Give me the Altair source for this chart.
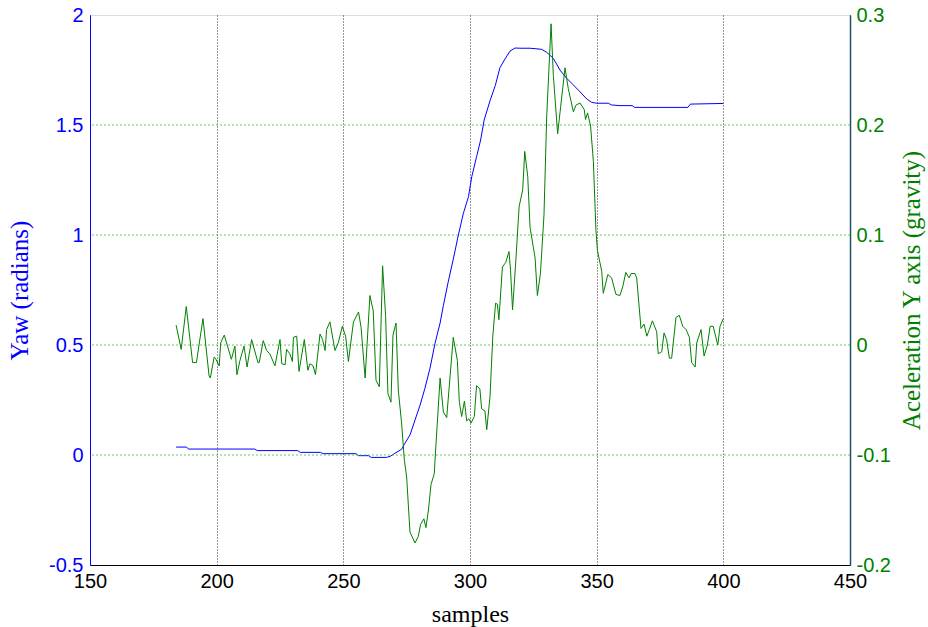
import altair as alt
import pandas as pd

# Yaw (radians) - blue, left axis
yaw_samples = [184, 188, 189, 215, 216, 232, 233, 241, 242, 255, 256, 260, 261, 267,
               268.5, 270.4, 273, 274.3, 276.3, 278.3, 280.3, 282.2, 284.2, 286.2,
               288.2, 289.5, 291.4, 293.4, 295.4, 297.4, 299.4, 300.7, 302.6, 304.2,
               305.6, 307.9, 310, 311.8, 313.8, 315.8, 317.8, 319.7, 323.7, 328.3,
               330.3, 332.9, 335.5, 338.2, 340.8, 343.4, 346.1, 348, 350, 354.6,
               355.9, 359.2, 364, 365, 386, 387, 400]
yaw_values = [0.036, 0.036, 0.027, 0.027, 0.02, 0.02, 0.012, 0.012, 0.006, 0.006,
              -0.003, -0.003, -0.011, -0.011, -0.006, 0.008, 0.026, 0.053, 0.091,
              0.159, 0.227, 0.303, 0.394, 0.508, 0.6, 0.68, 0.787, 0.89, 1.0, 1.099,
              1.174, 1.265, 1.356, 1.432, 1.523, 1.61, 1.68, 1.76, 1.80, 1.836, 1.85,
              1.849, 1.849, 1.844, 1.830, 1.803, 1.75, 1.712, 1.682, 1.651, 1.618,
              1.603, 1.599, 1.599, 1.591, 1.588, 1.588, 1.58, 1.58, 1.595, 1.598]

# Acceleration Y axis (gravity) - green, right axis
acc_samples = [184, 186, 188, 190.5, 192, 194.6, 197, 197.5, 199, 199.5, 201, 201.6,
               203, 205.8, 207.2, 208, 209.2, 210.8, 212, 213.8, 216.3, 216.8, 218.4,
               219.7, 221, 223, 225, 225.7, 227, 227.6, 228.9, 229.9, 230.3, 231.6,
               232.5, 234.6, 236, 236.8, 238.1, 239, 240.8, 241.8, 242.8, 243.4,
               244.7, 246.7, 248, 249.6, 250.9, 252, 254, 256, 257, 258.6, 260.5,
               261.8, 262.9, 264.2, 265.5, 266.7, 267.6, 268.8, 269.6, 270.8, 271.7,
               273, 274.1, 275, 276.3, 278.3, 279.6, 280.5, 281.8, 282.6, 283.6,
               284.6, 285.9, 286.6, 288.2, 289.5, 290.8, 293.4, 295, 295.8, 296.7,
               297.8, 298.7, 299.6, 300.4, 301.7, 302.6, 303.9, 304.6, 305.9, 306.6,
               307.9, 309, 310.1, 310.8, 311.4, 312.8, 314.1, 315.4, 316, 316.8,
               318.1, 319.4, 320.8, 321.6, 322.8, 323.7, 325.7, 326.6, 327.8, 329.2,
               330.3, 332, 332.9, 334.6, 335.8, 337.5, 338.8, 340.8, 341.8, 343.4,
               345.1, 345.6, 346.4, 347.6, 348.7, 349.7, 350.3, 352.0, 352.6, 354.4,
               355.9, 357.6, 359.2, 360.3, 361.5, 362.8, 363.6, 365.1, 365.8, 367.5,
               368.7, 369.8, 370.8, 372.0, 373.7, 374.3, 375.7, 376.6, 377.6, 378.7,
               379.6, 381.3, 382.6, 384.0, 385.3, 386.6, 387.5, 388.9, 389.5, 391.2,
               392.4, 393.7, 394.8, 396.0, 397.8, 398.7, 400]
acc_values = [0.018, -0.004, 0.035, -0.016, -0.016, 0.024, -0.028, -0.030, -0.011,
              -0.012, -0.019, 0.002, 0.009, -0.013, -0.001, -0.027, -0.014, -0.001,
              -0.020, 0.005, -0.016, -0.016, 0.004, -0.005, -0.008, -0.019, 0.005,
              -0.017, -0.018, -0.004, -0.008, -0.015, 0.007, 0.008, -0.024, 0.005,
              -0.023, -0.017, -0.019, -0.027, 0.010, 0.005, -0.005, 0.014, 0.021,
              -0.005, 0.002, 0.017, 0.008, -0.015, 0.021, 0.030, 0.016, -0.030,
              0.045, 0.031, -0.032, -0.038, 0.072, 0.026, -0.044, -0.052, 0.009,
              0.020, -0.041, -0.071, -0.105, -0.120, -0.170, -0.180, -0.174, -0.163,
              -0.158, -0.166, -0.150, -0.127, -0.117, -0.089, -0.030, -0.061, -0.066,
              0.007, -0.014, -0.052, -0.065, -0.051, -0.069, -0.067, -0.071, -0.065,
              -0.037, -0.040, -0.058, -0.060, -0.077, -0.047, 0.008, 0.038, 0.037,
              0.023, 0.071, 0.075, 0.085, 0.068, 0.032, 0.077, 0.126, 0.141, 0.176,
              0.153, 0.107, 0.079, 0.045, 0.065, 0.118, 0.209, 0.292, 0.245, 0.192,
              0.217, 0.252, 0.233, 0.212, 0.218, 0.220, 0.214, 0.205, 0.211, 0.199,
              0.167, 0.105, 0.086, 0.067, 0.047, 0.064, 0.061, 0.046, 0.045, 0.053,
              0.066, 0.061, 0.065, 0.065, 0.061, 0.015, 0.019, 0.008, 0.014, 0.022,
              0.012, -0.008, -0.006, 0.011, 0.005, -0.012, -0.012, 0.025, 0.027,
              0.017, 0.014, 0.007, -0.016, -0.020, 0.002, 0.014, -0.010, 0.000,
              0.017, 0.017, 0.000, 0.017, 0.024]

x_ticks = [150, 200, 250, 300, 350, 400, 450]
yaw_ticks = [-0.5, 0, 0.5, 1, 1.5, 2]
acc_ticks = [-0.2, -0.1, 0, 0.1, 0.2, 0.3]
acc_grid = [-0.1, 0, 0.1, 0.2]

yaw_df = pd.DataFrame({"samples": yaw_samples, "yaw": yaw_values})
acc_df = pd.DataFrame({"samples": acc_samples, "acc": acc_values})
grid_df = pd.DataFrame({"acc": acc_grid})

x_enc = alt.X(
    "samples:Q",
    scale=alt.Scale(domain=[150, 450], nice=False, zero=False),
    axis=alt.Axis(
        values=x_ticks, title="samples", ticks=False,
        labelFont="Liberation Sans", labelFontSize=20, labelColor="black",
        labelPadding=6, labelFlush=False,
        titleFont="Liberation Serif", titleFontSize=24, titleFontWeight="normal",
        titleColor="black", titlePadding=11,
        domainColor="black", domainWidth=1,
        grid=True, gridColor="#333333", gridDash=[1, 2], gridWidth=1, gridOpacity=1,
    ),
)

acc_y = alt.Y(
    "acc:Q",
    scale=alt.Scale(domain=[-0.2, 0.3], nice=False, zero=False),
    axis=alt.Axis(
        orient="right", values=acc_ticks, title="Aceleration Y axis (gravity)",
        ticks=False,
        labelExpr="toString(round(datum.value*10)/10)",
        labelFont="Liberation Sans", labelFontSize=20, labelColor="#008000",
        labelPadding=6, labelFlush=False,
        titleFont="Liberation Serif", titleFontSize=25, titleFontWeight="normal",
        titleColor="#008000", titlePadding=9, titleAngle=270,
        titleBaseline="top",
        domainColor="#1f5068", domainWidth=1.5, grid=False,
    ),
)

yaw_line = alt.Chart(yaw_df).mark_line(color="#0000ff", strokeWidth=1).encode(
    x=x_enc,
    y=alt.Y(
        "yaw:Q",
        scale=alt.Scale(domain=[-0.5, 2], nice=False, zero=False),
        axis=alt.Axis(
            orient="left", values=yaw_ticks, title="Yaw (radians)", ticks=False,
            labelExpr="toString(round(datum.value*10)/10)",
            labelFont="Liberation Sans", labelFontSize=20, labelColor="#0000ff",
            labelPadding=7, labelFlush=False,
            titleFont="Liberation Serif", titleFontSize=25, titleFontWeight="normal",
            titleColor="#0000ff", titlePadding=16,
            domainColor="#0000ff", domainWidth=1, grid=False,
        ),
    ),
)

grid_rules = alt.Chart(grid_df).mark_rule(
    color="#33bb33", strokeWidth=1, strokeDash=[2, 2], opacity=0.75
).encode(y=acc_y)

acc_line = alt.Chart(acc_df).mark_line(color="#008000", strokeWidth=1).encode(
    x=x_enc,
    y=acc_y,
)

chart = (
    alt.layer(yaw_line, alt.layer(grid_rules, acc_line))
    .resolve_scale(y="independent")
    .properties(
        width=760, height=550,
        autosize=alt.AutoSizeParams(type="none"),
        padding={"left": 90, "top": 15, "right": 78, "bottom": 62},
    )
    .configure_view(stroke="black", strokeWidth=1)
    .configure_axisY(grid=False)
    .configure(background="white")
)

chart.save("out.html", embed_options={"renderer": "svg", "actions": False})
